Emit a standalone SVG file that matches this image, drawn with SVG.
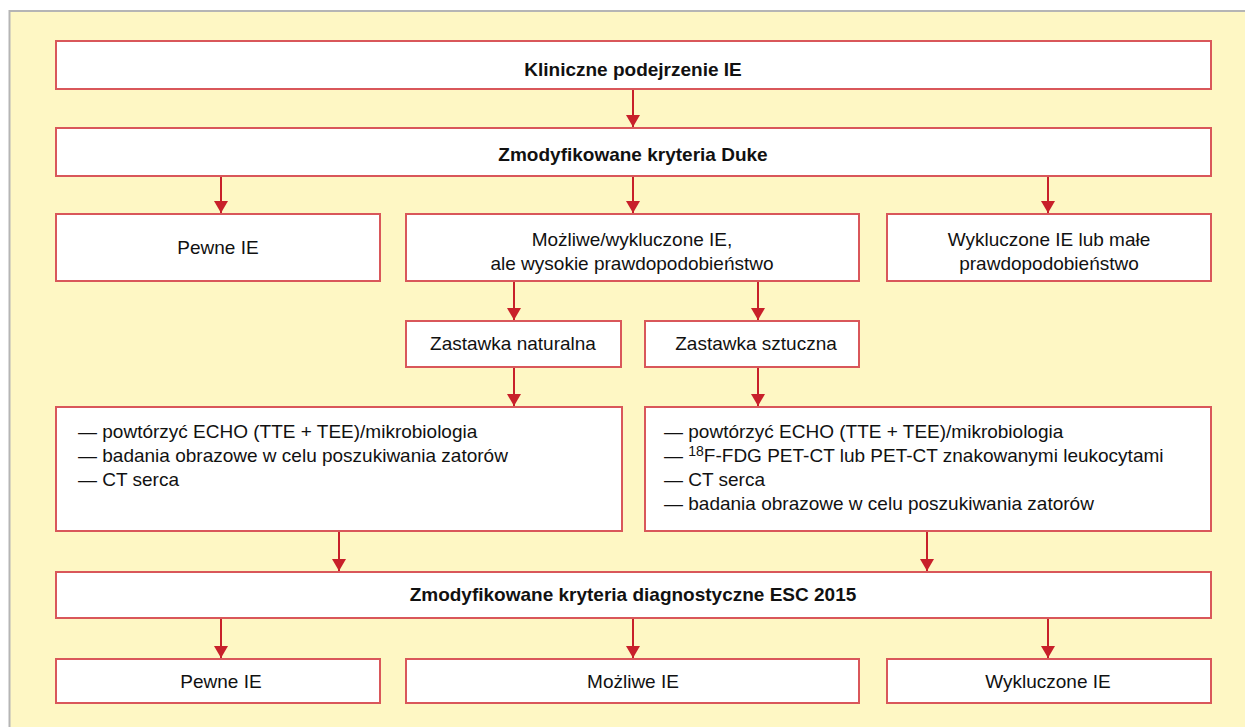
<svg xmlns="http://www.w3.org/2000/svg" width="1245" height="727" viewBox="0 0 1245 727">
<defs>
<style>
.box{fill:#ffffff;stroke:#d9575a;stroke-width:2}
.t{font-family:"Liberation Sans",Arial,sans-serif;font-size:19px;fill:#111}
.c{text-anchor:middle}
.b{font-weight:bold}
.con line{stroke:#c8202a;stroke-width:2}
</style>
<marker id="ah" viewBox="0 0 12 14" refX="12" refY="7" markerWidth="12" markerHeight="14" markerUnits="userSpaceOnUse" orient="auto">
<path d="M0,0 L12,7 L0,14 Z" fill="#c8202a"/>
</marker>
</defs>
<rect x="9.5" y="11" width="1240" height="720" fill="#fef7c4" stroke="#b5b5b5" stroke-width="2"/>
<g class="con">
<line x1="633" y1="89" x2="633" y2="127" marker-end="url(#ah)"/>
<line x1="221" y1="176" x2="221" y2="213" marker-end="url(#ah)"/>
<line x1="633" y1="176" x2="633" y2="213" marker-end="url(#ah)"/>
<line x1="1048" y1="176" x2="1048" y2="213" marker-end="url(#ah)"/>
<line x1="514" y1="281" x2="514" y2="320" marker-end="url(#ah)"/>
<line x1="758" y1="281" x2="758" y2="320" marker-end="url(#ah)"/>
<line x1="514" y1="367" x2="514" y2="406" marker-end="url(#ah)"/>
<line x1="758" y1="367" x2="758" y2="406" marker-end="url(#ah)"/>
<line x1="339" y1="531" x2="339" y2="571" marker-end="url(#ah)"/>
<line x1="927" y1="531" x2="927" y2="571" marker-end="url(#ah)"/>
<line x1="221" y1="618" x2="221" y2="658" marker-end="url(#ah)"/>
<line x1="633" y1="618" x2="633" y2="658" marker-end="url(#ah)"/>
<line x1="1048" y1="618" x2="1048" y2="658" marker-end="url(#ah)"/>
</g>
<g id="n1"><rect class="box" x="56" y="41" width="1155" height="48"/><text class="t c b" x="633" y="76">Kliniczne podejrzenie IE</text></g>
<g id="n2"><rect class="box" x="56" y="128" width="1155" height="48"/><text class="t c b" x="633" y="161">Zmodyfikowane kryteria Duke</text></g>
<g id="n3"><rect class="box" x="56" y="214" width="324" height="67"/><text class="t c" x="218" y="254">Pewne IE</text></g>
<g id="n4"><rect class="box" x="406" y="214" width="453" height="67"/><text class="t c" x="632" y="246">Możliwe/wykluczone IE,</text><text class="t c" x="632" y="270">ale wysokie prawdopodobieństwo</text></g>
<g id="n5"><rect class="box" x="887" y="214" width="324" height="67"/><text class="t c" x="1049" y="246">Wykluczone IE lub małe</text><text class="t c" x="1049" y="270">prawdopodobieństwo</text></g>
<g id="n6"><rect class="box" x="406" y="321" width="215" height="46"/><text class="t c" x="513" y="350">Zastawka naturalna</text></g>
<g id="n7"><rect class="box" x="645" y="321" width="214" height="46"/><text class="t c" x="756" y="350">Zastawka sztuczna</text></g>
<g id="n8"><rect class="box" x="56" y="407" width="566" height="124"/>
<text class="t" x="78" y="438">— powtórzyć ECHO (TTE + TEE)/mikrobiologia</text>
<text class="t" x="78" y="462">— badania obrazowe w celu poszukiwania zatorów</text>
<text class="t" x="78" y="486">— CT serca</text></g>
<g id="n9"><rect class="box" x="645" y="407" width="566" height="124"/>
<text class="t" x="664" y="438">— powtórzyć ECHO (TTE + TEE)/mikrobiologia</text>
<text class="t" x="664" y="462">— <tspan font-size="14" dy="-6">18</tspan><tspan dy="6">F-FDG PET-CT lub PET-CT znakowanymi leukocytami</tspan></text>
<text class="t" x="664" y="486">— CT serca</text>
<text class="t" x="664" y="510">— badania obrazowe w celu poszukiwania zatorów</text></g>
<g id="n10"><rect class="box" x="56" y="572" width="1155" height="46"/><text class="t c b" x="633" y="601">Zmodyfikowane kryteria diagnostyczne ESC 2015</text></g>
<g id="n11"><rect class="box" x="56" y="659" width="324" height="44"/><text class="t c" x="221" y="688">Pewne IE</text></g>
<g id="n12"><rect class="box" x="406" y="659" width="453" height="44"/><text class="t c" x="633" y="688">Możliwe IE</text></g>
<g id="n13"><rect class="box" x="887" y="659" width="324" height="44"/><text class="t c" x="1048" y="688">Wykluczone IE</text></g>
</svg>
